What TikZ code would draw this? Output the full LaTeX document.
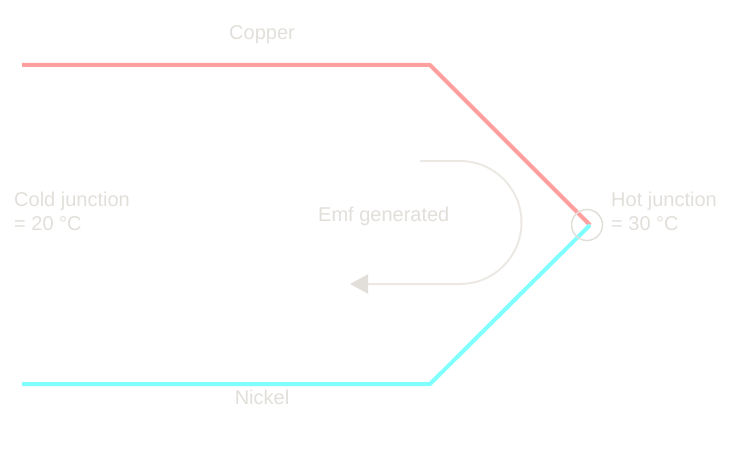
\documentclass[tikz,border=0pt]{standalone}
\usepackage{fontspec}
\setmainfont{Liberation Sans}
\usetikzlibrary{arrows.meta}

\definecolor{labelgray}{RGB}{226,223,218}
\definecolor{arrowgray}{RGB}{236,233,229}
\definecolor{copperred}{RGB}{255,160,158}
\definecolor{nickelcyan}{RGB}{128,255,255}

\tikzset{
    wire/.style={line width=4pt, line cap=butt, line join=bevel},
    label/.style={text=labelgray, inner sep=0pt, font=\fontsize{20}{24}\selectfont},
}

\begin{document}
\begin{tikzpicture}[x=1pt, y=-1pt]

    \useasboundingbox (0,0) rectangle (756,452);

    \coordinate (cu-start) at (22, 65);
    \coordinate (cu-bend) at (430, 65);
    \coordinate (ni-start) at (22, 384);
    \coordinate (ni-bend) at (430, 384);
    \coordinate (junction) at (590, 225);
    \coordinate (emf-start) at (420, 161);
    \coordinate (emf-end) at (350, 284);

    \node [label, anchor=base] (copper) at (262, 40) {Copper};
    \node [label, anchor=base] (nickel) at (262, 404) {Nickel};
    \node [label, anchor=west, align=left] (cold) at (14, 211) {Cold junction\\= 20 °C};
    \node [label, anchor=west, align=left] (hot) at (611, 211) {Hot junction\\= 30 °C};
    \node [label, anchor=base west] (emf) at (318, 221) {Emf generated};

    \draw[wire, copperred] (cu-start) -- (cu-bend) -- (junction);
    \draw[wire, nickelcyan] (ni-start) -- (ni-bend) -- (junction);
    \node [circle, draw=labelgray, line width=1.5pt, minimum size=31pt, inner sep=0pt] (hot-spot) at (587, 225) {};

    \draw[arrowgray, line width=2pt, -{Triangle[length=18pt, width=19pt, color=labelgray]}]
        (emf-start) -- (460, 161) arc (-90:90:61.5) -- (emf-end);

\end{tikzpicture}
\end{document}
